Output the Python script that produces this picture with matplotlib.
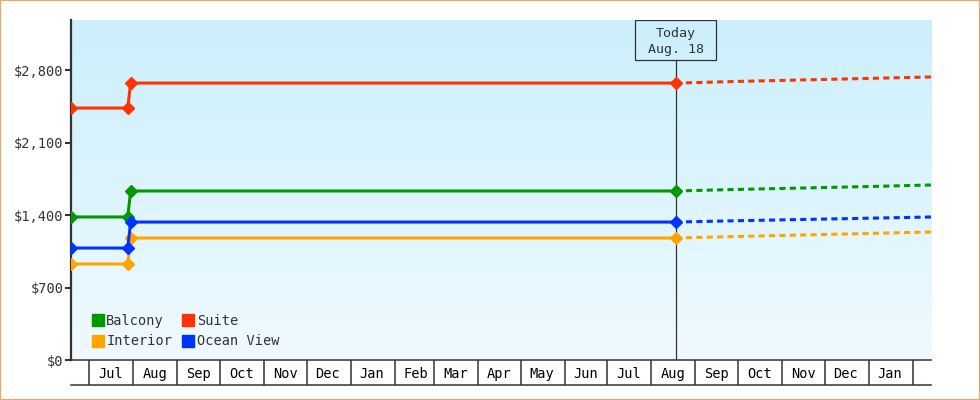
import numpy as np
import matplotlib
matplotlib.use("Agg")
import matplotlib.pyplot as plt
import matplotlib.dates as mdates
from matplotlib.patches import Rectangle
from matplotlib.lines import Line2D
from matplotlib.ticker import FuncFormatter

# --- data ---
hist_dates = ["2022-06-18", "2022-07-28", "2022-07-30", "2023-08-18"]
fc_dates = ["2023-08-18", "2023-09-01", "2023-10-01", "2024-01-01", "2024-02-14"]

interior_hist = [927, 927, 1178, 1178]
balcony_hist = [1381, 1381, 1632, 1632]
ocean_hist = [1081, 1081, 1332, 1332]
suite_hist = [2433, 2433, 2674, 2674]

interior_fc = [1178, 1183, 1193, 1222, 1236]
balcony_fc = [1632, 1637, 1647, 1675, 1690]
ocean_fc = [1332, 1336, 1345, 1369, 1381]
suite_fc = [2674, 2679, 2690, 2719, 2733]

names = ["Interior", "Balcony", "Ocean View", "Suite"]
colors = ["#ffa500", "#009900", "#0033ff", "#ff3300"]
yticks = [0, 700, 1400, 2100, 2800]
x_start, x_end = "2022-06-18", "2024-02-14"
today = "2023-08-18"
today_label = "Today\nAug. 18"

DARK = "#333333"
plt.rcParams["font.family"] = ["DejaVu Sans Mono"]

hd = mdates.datestr2num(hist_dates)
fd = mdates.datestr2num(fc_dates)
x0, x1 = mdates.datestr2num(x_start), mdates.datestr2num(x_end)
t = mdates.datestr2num(today)
ymax = 3283

fig = plt.figure(figsize=(9.8, 4.0), dpi=100)
ax = fig.add_axes([71 / 980, 40 / 400, 860 / 980, 340 / 400])

# background gradient
grad = np.linspace(0, 1, 256).reshape(-1, 1)
top = np.array([203, 239, 252]) / 255
bot = np.array([240, 250, 255]) / 255
img = bot + (top - bot) * grad[:, :, None] * np.ones((1, 1, 3))
ax.imshow(img, extent=[0, 1, 0, 1], transform=ax.transAxes, aspect="auto",
          origin="lower", zorder=0)

series = [(interior_hist, interior_fc), (balcony_hist, balcony_fc),
          (ocean_hist, ocean_fc), (suite_hist, suite_fc)]
for (h, f), c in zip(series, colors):
    ax.plot(hd, h, color=c, lw=2.2, marker="D", ms=6.5, zorder=3,
            solid_joinstyle="miter")
    ax.plot(fd, f, color=c, lw=2.2, dashes=(2.0, 1.4), zorder=3)

ax.set_xlim(x0, x1)
ax.set_ylim(0, ymax)

# today marker
box_w, box_h = 81 / 860, 40 / 340
xc = (t - x0) / (x1 - x0)
ax.axvline(t, ymin=0, ymax=1 - box_h, color=DARK, lw=0.9, zorder=2)
ax.add_patch(Rectangle((xc - box_w / 2, 1 - box_h), box_w, box_h,
                       transform=ax.transAxes, fill=False, ec=DARK, lw=0.9,
                       zorder=4))
ax.text(xc, 1 - box_h / 2 - 0.004, today_label, transform=ax.transAxes,
        ha="center", va="center", fontsize=9.6, color=DARK, linespacing=1.35,
        zorder=5)

# axes styling
for s in ["top", "right"]:
    ax.spines[s].set_visible(False)
ax.spines["left"].set_color(DARK)
ax.spines["left"].set_linewidth(1.6)
ax.spines["bottom"].set_color(DARK)
ax.spines["bottom"].set_linewidth(1.1)

ax.set_yticks(yticks)
ax.yaxis.set_major_formatter(FuncFormatter(lambda v, p: "${:,.0f}".format(v)))
ax.tick_params(axis="y", length=4.5, width=1.5, color=DARK, labelcolor=DARK,
               labelsize=9.8, pad=1)

ax.xaxis.set_minor_locator(mdates.MonthLocator())
ax.xaxis.set_major_locator(mdates.MonthLocator(bymonthday=16))
ax.xaxis.set_major_formatter(mdates.DateFormatter("%b"))
ax.tick_params(axis="x", which="minor", length=18, width=1.1, color=DARK)
ax.tick_params(axis="x", which="major", length=0, labelsize=9.8,
               labelcolor="black", pad=5)
ax.plot([0, 1], [-25 / 340, -25 / 340], transform=ax.transAxes,
        clip_on=False, color=DARK, lw=1.1)

# legend
order = [1, 0, 3, 2]
handles = [Line2D([], [], ls="none", marker="s", ms=8, color=colors[i])
           for i in order]
ax.legend(handles, [names[i] for i in order], ncol=2, loc="lower left",
          bbox_to_anchor=(0.01, -0.002), frameon=False, fontsize=9.8,
          handlelength=0.9, handletextpad=0.15, columnspacing=0.75,
          labelspacing=0.5, labelcolor=DARK)

fig.add_artist(Rectangle((0, 0), 1, 1, transform=fig.transFigure, fill=False,
                         ec="#e9a964", lw=1.6))

fig.savefig("out.png", dpi=100)
